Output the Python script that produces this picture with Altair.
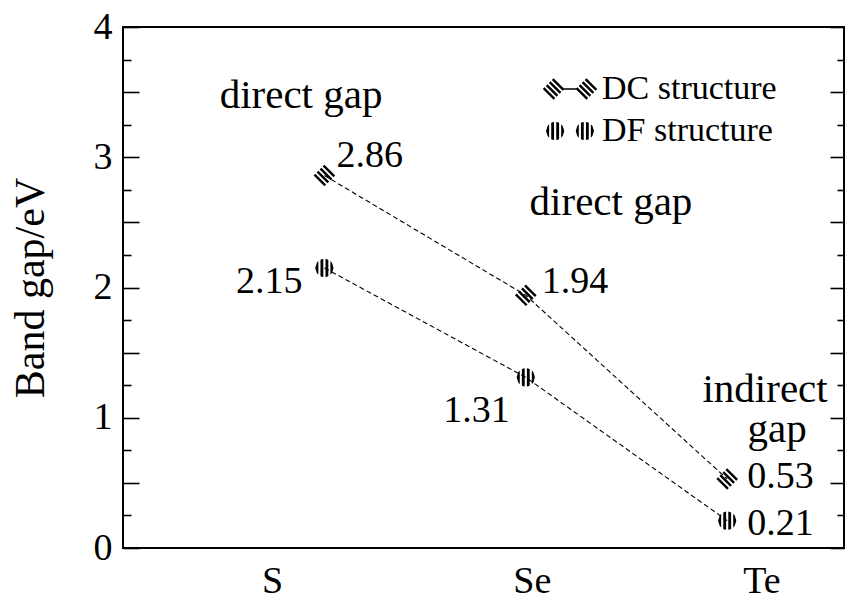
import math

import altair as alt
import pandas as pd

# ---- data -----------------------------------------------------------------
categories = ["S", "Se", "Te"]
series_names = ["DC structure", "DF structure"]
dc_gap = [2.86, 1.94, 0.53]
df_gap = [2.15, 1.31, 0.21]

y_label_values = [0, 1, 2, 3, 4]
y_tick_values = [0, 0.25, 0.5, 0.75, 1, 1.25, 1.5, 1.75, 2, 2.25, 2.5, 2.75,
                 3, 3.25, 3.5, 3.75, 4]
x_label_pos = [0.74, 2.03, 3.17]

annotations = pd.DataFrame({
    "text": ["direct gap", "direct gap", "indirect", "gap"],
    "x": [0.884, 2.423, 3.188, 3.248],
    "y": [3.378, 2.557, 1.121, 0.814],
})

rows = []
for name, values in zip(series_names, [dc_gap, df_gap]):
    for i, (cat, v) in enumerate(zip(categories, values)):
        rows.append({"series": name, "cat": cat, "x": i + 1, "gap": v})
data = pd.DataFrame(rows)

# ---- hatched marker shapes (unit coordinates) -----------------------------
def _fmt(p):
    return f"{p[0]:.3f},{p[1]:.3f}"


def poly(points):
    return "M" + " L".join(_fmt(p) for p in points) + " Z"


def hatched_diamond(cx=0.0):
    # square rotated 45 degrees, four black bands with three white gaps
    h = 0.72
    gap = 2 * h / 8.2
    band = 1.3 * gap
    th = math.radians(45)
    c, s = math.cos(th), math.sin(th)
    out = []
    for k in range(4):
        y0 = -h + k * (band + gap)
        y1 = y0 + band
        pts = [(-h, y0), (h, y0), (h, y1), (-h, y1)]
        out.append(poly([(x * c - y * s + cx, x * s + y * c) for x, y in pts]))
    return " ".join(out)


def hatched_circle(cx=0.0, r=0.86):
    # disc cut into four vertical black bands
    bands = [(-1.0, -0.66), (-0.43, -0.12), (0.12, 0.43), (0.66, 1.0)]
    out = []
    for a, b in bands:
        xs = [a, (a + b) / 2, b]
        top = [(x * r + cx, -math.sqrt(max(0.0, 1 - x * x)) * r) for x in xs]
        bot = [(x * r + cx, math.sqrt(max(0.0, 1 - x * x)) * r) for x in reversed(xs)]
        out.append(poly(top + bot))
    return " ".join(out)


DC_PATH = hatched_diamond()
DF_PATH = hatched_circle()
DC_LEGEND = " ".join([hatched_diamond(-1.55), hatched_diamond(1.55),
                      poly([(-0.6, -0.06), (0.6, -0.06), (0.6, 0.06), (-0.6, 0.06)])])
DF_LEGEND = " ".join([hatched_circle(-1.4), hatched_circle(1.4)])

# ---- layout / style -------------------------------------------------------
FONT = "'Liberation Serif', 'Times New Roman', Times, 'DejaVu Serif', serif"
W, H = 721, 521
MARK_SIZE = 450

xscale = alt.Scale(domain=[0, 3.58], nice=False, zero=False)
yscale = alt.Scale(domain=[0, 4], nice=False, zero=False)

label_expr = "''"
for pos, cat in reversed(list(zip(x_label_pos, categories))):
    label_expr = f"abs(datum.value - {pos}) < 0.01 ? '{cat}' : {label_expr}"

x_enc = alt.X(
    "x:Q", scale=xscale,
    axis=alt.Axis(values=x_label_pos, labelExpr=label_expr, ticks=False,
                  domain=False, grid=False, labelFont=FONT, labelFontSize=38,
                  labelColor="black", labelPadding=44,
                  labelBaseline="alphabetic", labelFlush=False, title=None),
)

y_main = alt.Y(
    "gap:Q", scale=yscale,
    axis=alt.Axis(orient="left", values=y_label_values, ticks=False, tickSize=0,
                  domain=False, grid=False, labelFont=FONT, labelFontSize=38,
                  labelColor="black", labelPadding=11,
                  title="Band gap/eV", titleFont=FONT, titleFontSize=42,
                  titleFontWeight="normal", titleColor="black",
                  titleX=-80, titleY=H / 2, titleBaseline="alphabetic",
                  titleAngle=270),
)


def inner_ticks(orient, long_len, short_len):
    return alt.Y(
        "gap:Q", scale=yscale,
        axis=alt.Axis(orient=orient, offset=-W, values=y_tick_values,
                      labels=False, domain=False, grid=False, ticks=True,
                      tickColor="black", tickWidth=1.6,
                      tickSize={"condition": {"test": "datum.value % 0.5 === 0",
                                              "value": long_len},
                                "value": short_len},
                      title=None),
    )


y_plain = alt.Y("gap:Q", scale=yscale, axis=None)

base = alt.Chart(data)

lines = base.mark_line(color="black", strokeDash=[5, 3], strokeWidth=1.1).encode(
    x=x_enc, y=y_main, detail="series:N"
)

# visible markers (no legend of their own)
points = base.mark_point(filled=True, size=MARK_SIZE, color="black", opacity=1,
                         strokeWidth=0).encode(
    x=x_enc, y=y_plain,
    shape=alt.Shape(
        "series:N",
        scale=alt.Scale(domain=series_names, range=[DC_PATH, DF_PATH]),
        legend=None,
    ),
)

# invisible copy whose shape scale carries the paired legend symbols
legend_keys = base.mark_point(filled=True, size=MARK_SIZE, color="black",
                              opacity=0, strokeWidth=0).encode(
    x=x_enc, y=y_plain,
    shape=alt.Shape(
        "series:N",
        scale=alt.Scale(domain=series_names, range=[DC_LEGEND, DF_LEGEND]),
        legend=alt.Legend(
            title=None, orient="none", legendX=430, legendY=45, padding=0,
            labelFont=FONT, labelFontSize=34, labelColor="black",
            labelOffset=15, labelLimit=400, symbolSize=MARK_SIZE,
            symbolFillColor="black", symbolStrokeWidth=0, symbolOpacity=1,
            rowPadding=8,
        ),
    ),
)

tick_left = base.mark_line(opacity=0).encode(
    x=x_enc, y=inner_ticks("right", 16, 8), detail="series:N")
tick_right = base.mark_line(opacity=0).encode(
    x=x_enc, y=inner_ticks("left", 14, 7), detail="series:N")

# value labels next to each point: (series, category, align, dx, dy)
label_spots = [
    (series_names[0], "S", "left", 12, -8),
    (series_names[1], "S", "right", -22, 25),
    (series_names[0], "Se", "left", 16, -2),
    (series_names[1], "Se", "right", -16, 45),
    (series_names[0], "Te", "left", 20, 9),
    (series_names[1], "Te", "left", 20, 14),
]
value_labels = []
for ser, cat, align, dx, dy in label_spots:
    value_labels.append(
        base.transform_filter(
            (alt.datum.series == ser) & (alt.datum.cat == cat)
        ).mark_text(font=FONT, fontSize=38, color="black", align=align,
                    baseline="alphabetic", dx=dx, dy=dy).encode(
            x=x_enc, y=y_plain, text=alt.Text("gap:Q", format=".2f"))
    )

notes = alt.Chart(annotations).mark_text(
    font=FONT, fontSize=41, color="black", align="center", baseline="alphabetic"
).encode(x=x_enc, y=alt.Y("y:Q", scale=yscale, axis=None), text="text:N")

chart = (
    alt.layer(lines, tick_left, tick_right, points, legend_keys, *value_labels, notes)
    .resolve_axis(y="independent")
    .resolve_scale(shape="independent")
    .properties(
        width=W, height=H, autosize="none",
        padding={"left": 123, "top": 27, "right": 2, "bottom": 51},
        background="white",
    )
    .configure_view(stroke="black", strokeWidth=2)
)

chart.save("out.html", embed_options={"renderer": "svg", "actions": False})
